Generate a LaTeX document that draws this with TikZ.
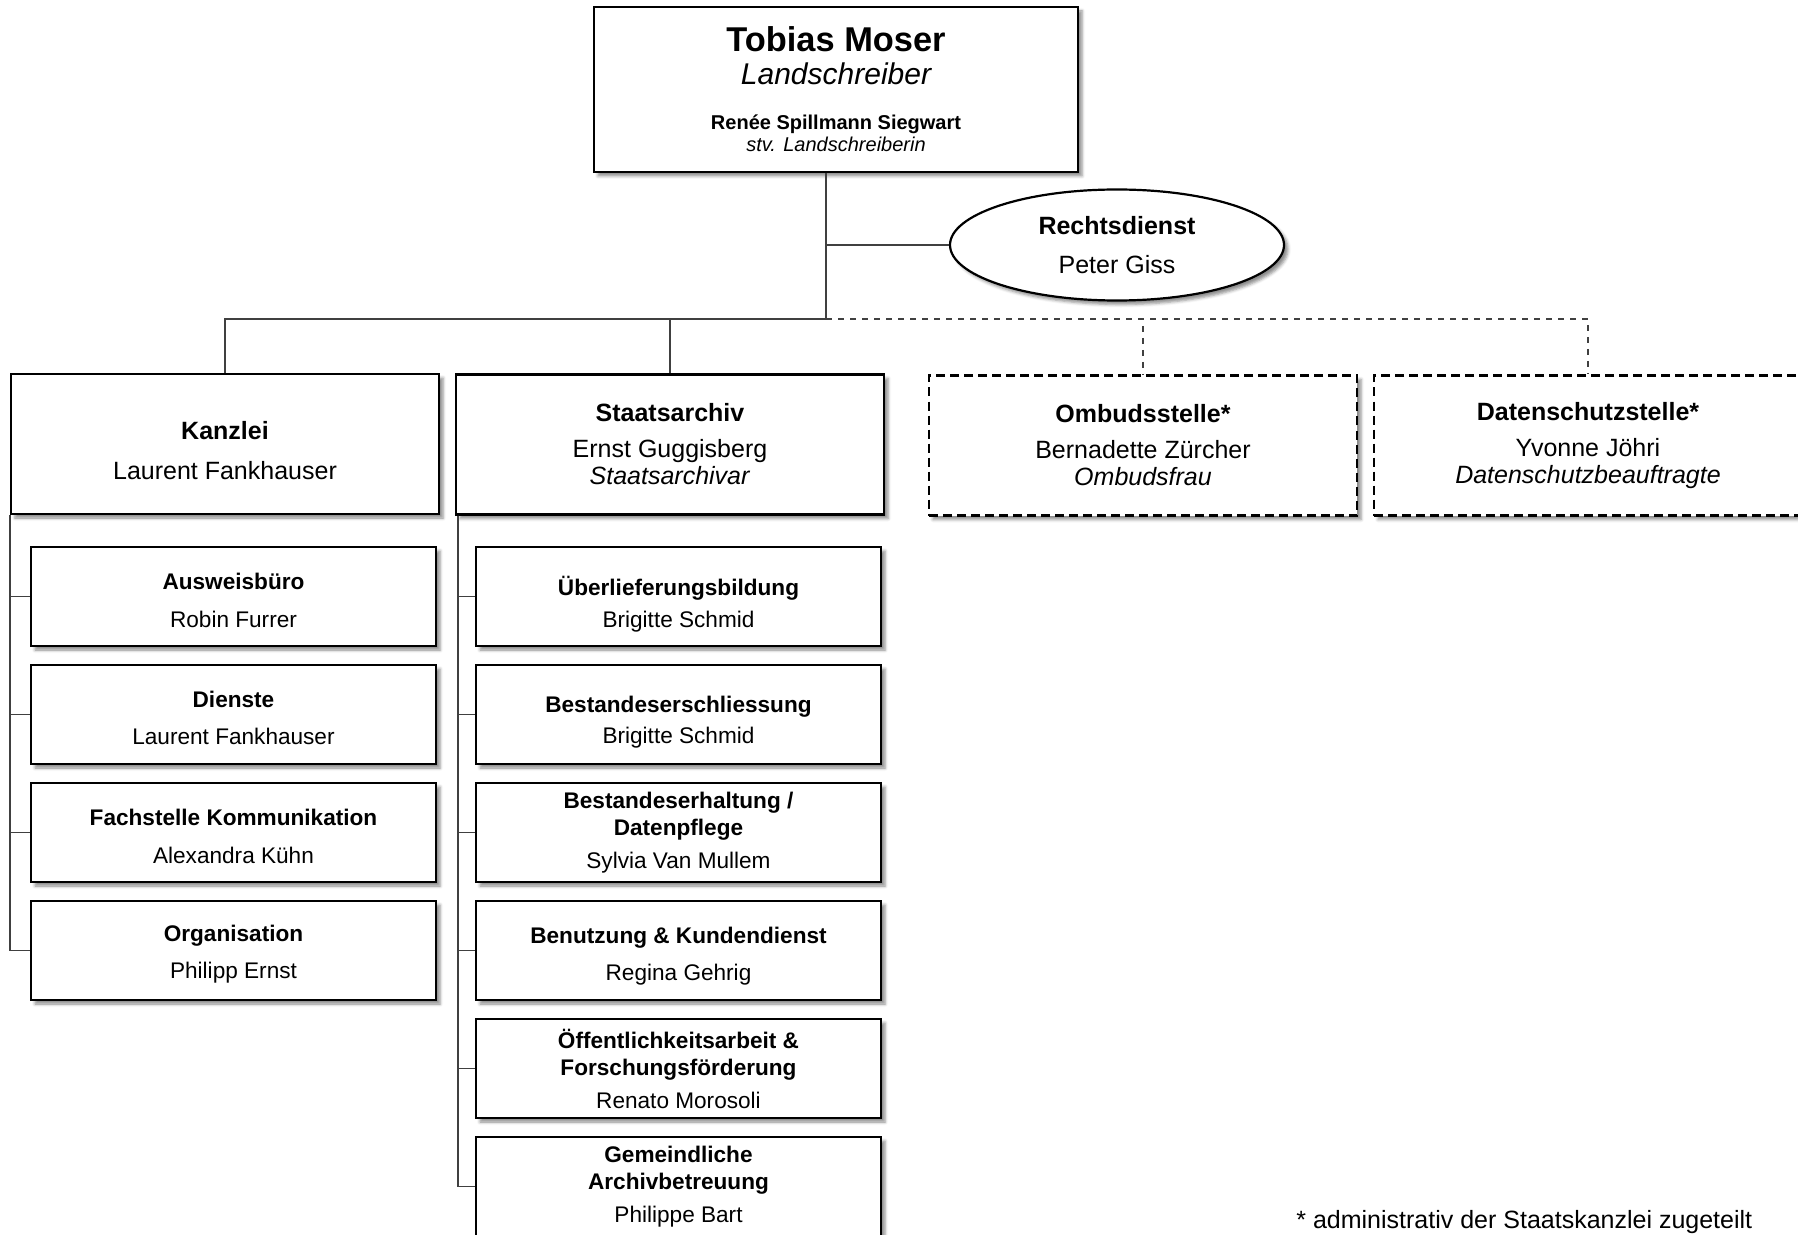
\documentclass[tikz,border=0pt]{standalone}
\usepackage{fontspec}
\setmainfont{Liberation Sans}
\usetikzlibrary{positioning,shapes.geometric,shadows.blur}

\newcommand\headroom[1]{\rule{0pt}{#1}}

\begin{document}
\begin{tikzpicture}[
                        x=0.5pt,
                        y=-0.5pt,
                        node distance=8.4pt,
                        font=\fontsize{12.5}{13.5}\selectfont
                    ]
                    \tikzstyle{shade}=[blur shadow={shadow xshift=2pt,shadow yshift=-2pt,shadow blur radius=1.5pt,shadow opacity=45}]
                    \tikzstyle{box}=[rectangle,draw=black,line width=1.1pt,fill=white,shade,
                                     minimum width=214pt,minimum height=70pt,inner sep=2pt,align=center]
                    \tikzstyle{extern}=[box,dash pattern=on 4.5pt off 2.5pt]
                    \tikzstyle{unit}=[box,minimum width=202.5pt,minimum height=49.5pt,
                                      font=\fontsize{11.3}{13.5}\selectfont]
                    \tikzstyle{link}=[draw=black!75,line width=0.6pt]

                    \useasboundingbox (0,0) rectangle (1798,1235);
                    \clip (0,0) rectangle (1798,1235);

                    % Leitung
                    \node[box,minimum width=242pt,minimum height=82.5pt,font=\fontsize{10}{16.3}\selectfont]
                        (LS) at (836,89.5)
                        {{\fontsize{17.2}{0}\selectfont\bfseries Tobias Moser}\\
                         {\fontsize{15}{0}\selectfont\itshape Landschreiber}\\[6.5pt]
                         {\bfseries Renée Spillmann Siegwart}\\[-5.3pt]
                         {\itshape stv. Landschreiberin}} ;
                    \node[ellipse,draw=black,line width=1.1pt,fill=white,shade,inner sep=0pt,
                          minimum width=167pt,minimum height=55.5pt,align=center]
                        (RD) at (1117,245) {\textbf{Rechtsdienst}\\[6pt] Peter Giss} ;

                    % Abteilungen
                    \node[box]    (KZ) at (225,444)    {\headroom{16pt}\textbf{Kanzlei}\\[6.5pt] Laurent Fankhauser} ;
                    \node[box]    (SA) at (670,444.5)  {\textbf{Staatsarchiv}\\[4.5pt] Ernst Guggisberg\\ \textit{Staatsarchivar}} ;
                    \node[extern] (OS) at (1143,445.5) {\textbf{Ombudsstelle*}\\[4.5pt] Bernadette Zürcher\\ \textit{Ombudsfrau}} ;
                    \node[extern] (DS) at (1588,445.5) {\textbf{Datenschutzstelle*}\\[4.5pt] Yvonne Jöhri\\ \textit{Datenschutzbeauftragte}} ;

                    % Kanzlei
                    \node[unit] (KZ1) at (233.5,596.5) {\headroom{12pt}\textbf{Ausweisbüro}\\[5.5pt] Robin Furrer} ;
                    \node[unit] (KZ2) [below=of KZ1]   {\headroom{12pt}\textbf{Dienste}\\[5pt] Laurent Fankhauser} ;
                    \node[unit] (KZ3) [below=of KZ2]   {\headroom{12pt}\textbf{Fachstelle Kommunikation}\\[5.5pt] Alexandra Kühn} ;
                    \node[unit] (KZ4) [below=of KZ3]   {\headroom{12pt}\textbf{Organisation}\\[5pt] Philipp Ernst} ;

                    % Staatsarchiv
                    \node[unit] (SA1) at (678.5,596.5) {\headroom{17pt}\textbf{Überlieferungsbildung}\\[2.5pt] Brigitte Schmid} ;
                    \node[unit] (SA2) [below=of SA1]   {\headroom{16pt}\textbf{Bestandeserschliessung}\\[2pt] Brigitte Schmid} ;
                    \node[unit] (SA3) [below=of SA2]   {\textbf{Bestandeserhaltung /}\\ \textbf{Datenpflege}\\[3pt] Sylvia Van Mullem} ;
                    \node[unit] (SA4) [below=of SA3]   {\headroom{14pt}\textbf{Benutzung \& Kundendienst}\\[5pt] Regina Gehrig} ;
                    \node[unit] (SA5) [below=of SA4]   {\textbf{Öffentlichkeitsarbeit \&}\\ \textbf{Forschungsförderung}\\[3pt] Renato Morosoli} ;
                    \node[unit] (SA6) [below=of SA5]   {\textbf{Gemeindliche}\\ \textbf{Archivbetreuung}\\[3pt] Philippe Bart} ;

                    \node[anchor=base west,inner sep=0pt] (note) at (1296,1228) {* administrativ der Staatskanzlei zugeteilt} ;

                    % Verbindungen
                    \coordinate (hub) at (826,319) ;
                    \path[link] (hub |- LS.south) -- (hub) -| (KZ.north) ;
                    \path[link] (hub) -| (SA.north) ;
                    \path[link] (hub |- RD.west) -- (RD.west) ;
                    \path[link,dashed] (hub) -| (OS.north) ;
                    \path[link,dashed] (hub) -| (DS.north) ;
                    \foreach \u in {KZ1,KZ2,KZ3,KZ4}
                        \path[link] (KZ.south west) |- (\u.west) ;
                    \foreach \u in {SA1,SA2,SA3,SA4,SA5,SA6}
                        \path[link] ([xshift=1.5pt]SA.south west) |- (\u.west) ;

                \end{tikzpicture}
\end{document}
